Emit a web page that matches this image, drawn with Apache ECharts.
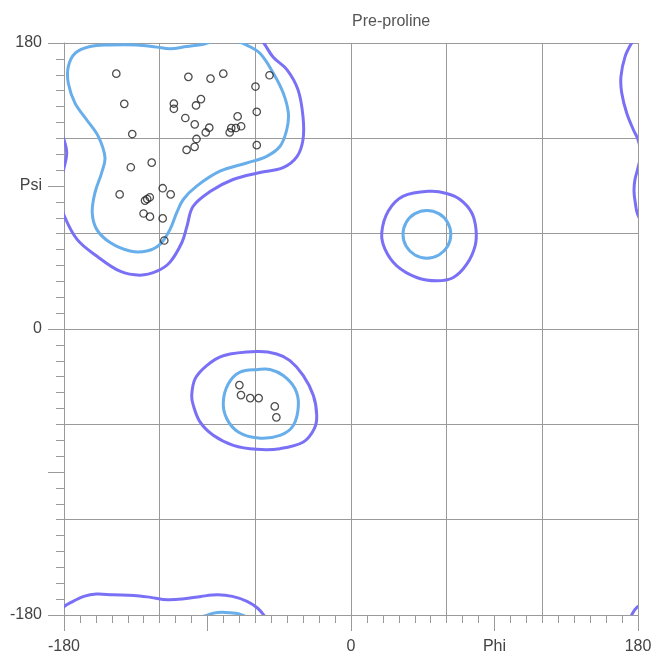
<!DOCTYPE html>
<html><head><meta charset="utf-8">
<script src="https://cdn.jsdelivr.net/npm/echarts@6/dist/echarts.min.js"></script>
<style>html,body{margin:0;padding:0;background:#fff}#c{width:657px;height:655px}</style>
</head><body><div id="c"></div>
<script>
// ---- data ----
const titleText = 'Pre-proline';
const xTickLabels = {'-180':'-180','-90':'','0':'0','90':'Phi','180':'180'};
const yTickLabels = {'-180':'-180','-90':'','0':'0','90':'Psi','180':'180'};

const phiValues = [-147.2,-142.2,-137.2,-102.0,-88.1,-80.1,-51.1,-59.9,-111.1,-111.1,-94.1,-97.2,-103.9,-98.0,-88.9,-91.1,-71.1,-59.1,-75.1,-72.2,-68.9,-76.1,-96.9,-98.1,-103.1,-59.1,-125.0,-138.1,-145.1,-118.1,-113.1,-126.2,-127.8,-129.2,-130.1,-126.1,-118.1,-117.1,-70.0,-69.0,-63.2,-57.9,-47.8,-46.8];
const psiValues = [160.7,141.7,122.7,158.7,157.6,160.7,159.7,152.6,141.9,138.6,144.7,140.7,132.8,128.8,126.7,123.7,133.8,136.7,126.4,126.5,127.6,123.7,119.6,114.6,112.7,115.7,104.7,101.8,84.7,88.6,84.7,82.9,81.8,80.8,72.7,70.7,69.6,55.7,-35.3,-41.6,-43.5,-43.5,-48.7,-55.6];

// outer contour (purple), beta region, unwrapped across the periodic edges
const outerBeta = [[-180.7,184.8],[-174.2,188.6],[-167.6,191.7],[-159.7,193.2],[-149.2,192.7],[-136.1,192.3],[-125.6,191.1],[-115.1,189.6],[-104.6,190.2],[-94.1,191.7],[-83.6,192.7],[-74.4,191.7],[-65.2,188.6],[-58.7,184.4],[-54.6,179.8],
 [-48.9,171.2],[-40.1,163.1],[-33.2,150.5],[-30.1,133.6],[-30.1,119.2],[-33.9,108.5],[-42.6,101.6],[-57.1,98.5],[-74.0,94.1],[-88.4,86.5],[-99.1,77.1],[-102.9,64.6],[-106.0,54.6],[-113.5,42.1],[-121.7,36.4],[-132.3,33.9],[-144.9,36.4],[-159.3,45.8],[-171.8,56.4],[-180.2,72.1],
 [-181.7,79.5],[-182.5,86.7],[-181.9,94.1],[-180.0,101.4],[-178.3,110.8],[-180.0,119.2],[-182.9,125.4],[-187.1,135.9],[-190.2,148.5],[-190.7,158.9],[-188.1,171.4],[-183.9,180.2]];
// inner contour (blue), beta region
const innerBeta = [[-70.7,180.8],[-65.4,178.7],[-57.1,173.5],[-48.7,161.0],[-42.5,148.5],[-39.3,135.9],[-40.3,125.4],[-44.5,115.0],[-52.9,108.7],[-65.4,104.5],[-82.2,99.3],[-96.8,89.9],[-105.2,81.5],[-109.3,73.2],[-113.5,62.7],[-119.8,53.3],[-128.1,49.1],[-138.6,49.1],[-151.1,54.4],[-159.5,62.7],[-162.3,73.2],[-160.6,85.7],[-156.4,98.3],[-154.3,107.9],[-158.5,121.2],[-165.8,131.7],[-173.1,142.2],[-177.3,154.7],[-177.3,165.1],[-173.1,173.5],[-163.7,177.8],[-151.1,178.8],[-134.4,178.8],[-121.9,177.4],[-113.5,176.4],[-103.0,177.8],[-92.5,179.2],[-86.1,181.2],[-80.9,181.7],[-75.6,181.4]];
// alpha region
const outerAlpha = [[-59.1,-14.2],[-46.6,-15.7],[-38.3,-19.9],[-29.9,-29.3],[-23.6,-41.8],[-21.5,-54.4],[-23.0,-62.7],[-29.9,-71.1],[-44.5,-75.3],[-59.1,-75.7],[-73.8,-73.2],[-86.4,-66.9],[-94.7,-58.5],[-98.9,-48.1],[-99.9,-41.8],[-97.8,-31.4],[-90.5,-23.0],[-80.1,-16.8]];
const innerAlpha = [[-58.1,-25.5],[-50.8,-25.5],[-42.5,-29.3],[-35.1,-37.6],[-33.0,-48.1],[-36.2,-60.7],[-44.5,-66.9],[-58.1,-68.6],[-70.7,-64.8],[-77.9,-56.5],[-80.1,-46.0],[-76.9,-34.5],[-69.6,-27.2]];
// left-handed region
const outerLeft = [[49.6,86.7],[60.0,85.3],[68.4,81.5],[75.7,73.2],[78.4,62.7],[77.8,52.2],[72.6,40.8],[64.2,32.4],[53.8,30.3],[41.2,32.4],[28.7,39.7],[21.3,50.2],[19.3,60.6],[23.4,74.2],[32.8,83.6]];
const innerLeft = [[62.6,59.6],[60.6,67.1],[55.1,72.6],[47.6,74.6],[40.1,72.6],[34.6,67.1],[32.6,59.6],[34.6,52.1],[40.1,46.6],[47.6,44.6],[55.1,46.6],[60.6,52.1]];

// ---- styles ----
const OUTER = '#7a70f5', INNER = '#68aeea', GRID = '#9a9a9a', TXT = '#444';
const FONT = '"Liberation Sans", Arial, sans-serif';

// contour list: [points, colour, periodic shifts]
const contours = [
  [outerBeta, OUTER, [[0,0],[0,-360],[360,0],[360,-360]]],
  [innerBeta, INNER, [[0,0],[0,-360]]],
  [outerAlpha, OUTER, [[0,0]]],
  [innerAlpha, INNER, [[0,0]]],
  [outerLeft, OUTER, [[0,0]]],
  [innerLeft, INNER, [[0,0]]]
];

function renderContour(params, api){
  const c = contours[api.value(0)];
  const tl = api.coord([-180, 180]), br = api.coord([180, -180]);
  const children = c[2].map(s => ({
    type:'polygon',
    shape:{points: c[0].map(p => api.coord([p[0] + s[0], p[1] + s[1]])), smooth:0.36},
    style:{fill:'none', stroke:c[1], lineWidth:3, lineJoin:'round'}
  }));
  return {type:'group', children: children,
    clipPath:{type:'rect', shape:{x:tl[0], y:tl[1], width:br[0]-tl[0], height:br[1]-tl[1]}}};
}

const series = [
  {type:'custom', xAxisIndex:0, yAxisIndex:0, renderItem:renderContour, silent:true, z:3,
   data: contours.map((c,i) => [i, 0])},
  {type:'scatter', xAxisIndex:0, yAxisIndex:0, symbol:'circle', symbolSize:7.4, z:5, silent:true,
   itemStyle:{color:'rgba(0,0,0,0)', borderColor:'#222', borderWidth:1.3},
   data: phiValues.map((v,i) => [v, psiValues[i]])}
];

const mainAxis = (labels, pos, margin) => ({
  type:'value', min:-180, max:180, interval:90, position:pos,
  axisLine:{show:true, onZero:false, lineStyle:{color:GRID, width:1}},
  axisTick:{show:true, length:16, lineStyle:{color:GRID, width:1}},
  minorTick:{show:true, splitNumber:9, length:8, lineStyle:{color:GRID, width:1}},
  axisLabel:{formatter:v => labels[String(v)] ?? '', margin:margin, color:TXT, fontSize:16, fontFamily:FONT, showMinLabel:true, showMaxLabel:true, hideOverlap:false},
  splitLine:{show:false}, minorSplitLine:{show:false}
});
const gridAxis = pos => ({
  type:'value', min:-180, max:180, interval:60, position:pos,
  axisLine:{show:false, onZero:false}, axisTick:{show:false}, axisLabel:{show:false},
  splitLine:{show:true, lineStyle:{color:GRID, width:1}}
});

const chart = echarts.init(document.getElementById('c'), null, {renderer:'canvas'});
chart.setOption({
  animation:false,
  backgroundColor:'#fff',
  title:{text:titleText, left:347, top:9, textStyle:{fontSize:16, fontWeight:'normal', color:'#555', fontFamily:FONT}},
  grid:{left:64, right:19, top:43, bottom:38, containLabel:false},
  xAxis:[mainAxis(xTickLabels,'bottom',24), gridAxis('top')],
  yAxis:[mainAxis(yTickLabels,'left',22), gridAxis('right')],
  series: series
});
</script>
</body></html>
